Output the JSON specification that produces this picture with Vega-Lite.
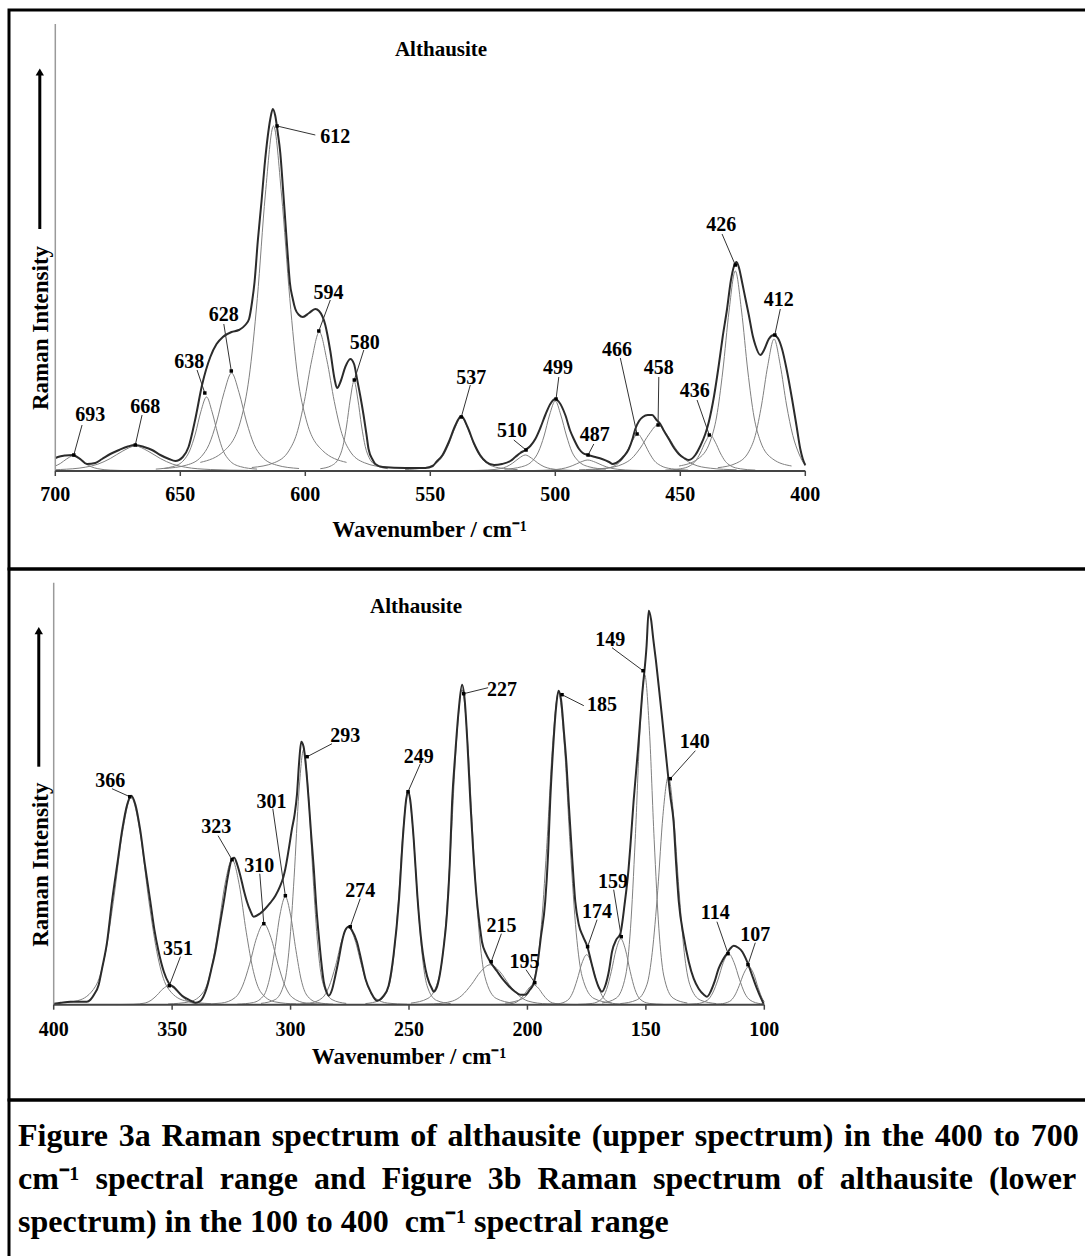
{
"$schema": "https://vega.github.io/schema/vega-lite/v6.json",
"padding": {"left": 7, "top": 8, "right": -5, "bottom": -5},
"spacing": 0,
"bounds": "flush",
"config": {"view": {"stroke": "#000", "strokeWidth": 3}, "text": {"font": "Liberation Serif", "fontWeight": "bold", "color": "#000"}},
"datasets": {
"aEnv": [{"wn":700,"i":13},{"wn":699,"i":14},{"wn":696,"i":15.5},{"wn":693,"i":16},{"wn":690,"i":12},{"wn":687.3,"i":7},{"wn":684,"i":8},{"wn":681.3,"i":12},{"wn":678,"i":17},{"wn":674.5,"i":21},{"wn":671,"i":24.5},{"wn":668,"i":26},{"wn":664.5,"i":24},{"wn":661.3,"i":21},{"wn":658,"i":16},{"wn":654.5,"i":12},{"wn":652,"i":10},{"wn":649,"i":14},{"wn":646.7,"i":24},{"wn":644,"i":52},{"wn":641.3,"i":86},{"wn":638,"i":114},{"wn":635.5,"i":127},{"wn":633,"i":134},{"wn":629.5,"i":139},{"wn":626.6,"i":141},{"wn":624,"i":146},{"wn":622.5,"i":152},{"wn":621.3,"i":169},{"wn":620.3,"i":189},{"wn":619,"i":230},{"wn":617.5,"i":270},{"wn":616.3,"i":305},{"wn":615,"i":335},{"wn":614,"i":352},{"wn":613,"i":362},{"wn":612,"i":355},{"wn":611,"i":338},{"wn":610,"i":318},{"wn":609,"i":285},{"wn":608,"i":250},{"wn":607,"i":215},{"wn":606.2,"i":189},{"wn":605,"i":172},{"wn":604,"i":162},{"wn":602.5,"i":156},{"wn":601,"i":154},{"wn":598.5,"i":158},{"wn":596,"i":162},{"wn":594.5,"i":160},{"wn":592,"i":146},{"wn":590,"i":120},{"wn":588.3,"i":92},{"wn":587.3,"i":83},{"wn":585.8,"i":90},{"wn":584,"i":104},{"wn":582,"i":112},{"wn":580.5,"i":107},{"wn":579.3,"i":92},{"wn":578,"i":75},{"wn":576.7,"i":56},{"wn":575.5,"i":36},{"wn":574.7,"i":22},{"wn":573,"i":11},{"wn":572,"i":7},{"wn":569,"i":4},{"wn":560,"i":3},{"wn":552,"i":3},{"wn":549,"i":5},{"wn":547.6,"i":9},{"wn":545.1,"i":16},{"wn":542.6,"i":29},{"wn":540.1,"i":45},{"wn":537.6,"i":55},{"wn":535.1,"i":44},{"wn":532.6,"i":28},{"wn":530.1,"i":16},{"wn":527.6,"i":9},{"wn":524.5,"i":6},{"wn":521.3,"i":7},{"wn":518,"i":10},{"wn":516,"i":14},{"wn":514,"i":18},{"wn":512,"i":21},{"wn":510,"i":25},{"wn":508,"i":32},{"wn":506,"i":43},{"wn":504,"i":56},{"wn":502,"i":67},{"wn":500,"i":72},{"wn":498.5,"i":69},{"wn":496,"i":56},{"wn":494,"i":40},{"wn":492.6,"i":32},{"wn":490.5,"i":22},{"wn":489,"i":18},{"wn":487,"i":16},{"wn":484,"i":14},{"wn":481.3,"i":12},{"wn":478.5,"i":9},{"wn":477,"i":7},{"wn":474.5,"i":10},{"wn":472.5,"i":15},{"wn":470.6,"i":22},{"wn":469,"i":33},{"wn":468,"i":42},{"wn":466.5,"i":50},{"wn":465,"i":54},{"wn":463,"i":56},{"wn":461.3,"i":56},{"wn":459.5,"i":51},{"wn":458,"i":47},{"wn":456.5,"i":40},{"wn":454.6,"i":32},{"wn":452.5,"i":23},{"wn":450.6,"i":17},{"wn":448.5,"i":13},{"wn":446.6,"i":11},{"wn":444,"i":16},{"wn":442,"i":25},{"wn":440,"i":37},{"wn":438.6,"i":49},{"wn":436.5,"i":75},{"wn":434.6,"i":106},{"wn":433,"i":135},{"wn":431.3,"i":162},{"wn":429.8,"i":190},{"wn":428.5,"i":205},{"wn":427.5,"i":209},{"wn":426.5,"i":203},{"wn":425.3,"i":189},{"wn":424,"i":173},{"wn":422.6,"i":156},{"wn":421,"i":135},{"wn":420,"i":126},{"wn":418,"i":116},{"wn":416.5,"i":121},{"wn":414.6,"i":132},{"wn":412.6,"i":136},{"wn":411,"i":133},{"wn":409.3,"i":122},{"wn":407.5,"i":102},{"wn":405.3,"i":72},{"wn":403.5,"i":45},{"wn":402,"i":22},{"wn":401,"i":12},{"wn":400,"i":6}],
"aComp": [
{"c":"693","wn":670.5,"i":0.4},{"c":"693","wn":678,"i":0.9},{"c":"693","wn":683,"i":2.3},{"c":"693","wn":685.5,"i":4.1},{"c":"693","wn":688,"i":7.5},{"c":"693","wn":690.5,"i":12},{"c":"693","wn":693,"i":15},{"c":"693","wn":695.5,"i":12},{"c":"693","wn":698,"i":7.5},{"c":"693","wn":700,"i":5},
{"c":"668","wn":623,"i":0.6},{"c":"668","wn":638,"i":1.5},{"c":"668","wn":648,"i":3.8},{"c":"668","wn":653,"i":6.8},{"c":"668","wn":658,"i":12.5},{"c":"668","wn":663,"i":20},{"c":"668","wn":668,"i":25},{"c":"668","wn":673,"i":20},{"c":"668","wn":678,"i":12.5},{"c":"668","wn":683,"i":6.8},{"c":"668","wn":688,"i":3.8},{"c":"668","wn":698,"i":1.5},{"c":"668","wn":700,"i":1.3},
{"c":"638","wn":619.3,"i":1.9},{"c":"638","wn":626,"i":4.4},{"c":"638","wn":630.5,"i":11.1},{"c":"638","wn":632.8,"i":20},{"c":"638","wn":635,"i":37},{"c":"638","wn":637.3,"i":59.2},{"c":"638","wn":639.5,"i":74},{"c":"638","wn":641.8,"i":59.2},{"c":"638","wn":644,"i":37},{"c":"638","wn":646.3,"i":20},{"c":"638","wn":648.5,"i":11.1},{"c":"638","wn":653,"i":4.4},{"c":"638","wn":659.8,"i":1.9},
{"c":"628","wn":602.5,"i":2.5},{"c":"628","wn":611.5,"i":5.9},{"c":"628","wn":617.5,"i":14.7},{"c":"628","wn":620.5,"i":26.5},{"c":"628","wn":623.5,"i":49},{"c":"628","wn":626.5,"i":78.4},{"c":"628","wn":629.5,"i":98},{"c":"628","wn":632.5,"i":78.4},{"c":"628","wn":635.5,"i":49},{"c":"628","wn":638.5,"i":26.5},{"c":"628","wn":641.5,"i":14.7},{"c":"628","wn":647.5,"i":5.9},{"c":"628","wn":656.5,"i":2.5},
{"c":"612","wn":583.5,"i":8.6},{"c":"612","wn":593.2,"i":20.7},{"c":"612","wn":599.7,"i":51.8},{"c":"612","wn":603,"i":93.2},{"c":"612","wn":606.2,"i":172.5},{"c":"612","wn":609.5,"i":276},{"c":"612","wn":612.7,"i":345},{"c":"612","wn":616,"i":276},{"c":"612","wn":619.2,"i":172.5},{"c":"612","wn":622.5,"i":93.2},{"c":"612","wn":625.7,"i":51.8},{"c":"612","wn":632.2,"i":20.7},{"c":"612","wn":642,"i":8.6},
{"c":"594","wn":567.4,"i":3.5},{"c":"594","wn":576.4,"i":8.3},{"c":"594","wn":582.4,"i":20.9},{"c":"594","wn":585.4,"i":37.5},{"c":"594","wn":588.4,"i":69.5},{"c":"594","wn":591.4,"i":111.2},{"c":"594","wn":594.4,"i":139},{"c":"594","wn":597.4,"i":111.2},{"c":"594","wn":600.4,"i":69.5},{"c":"594","wn":603.4,"i":37.5},{"c":"594","wn":606.4,"i":20.9},{"c":"594","wn":612.4,"i":8.3},{"c":"594","wn":621.4,"i":3.5},
{"c":"580","wn":567,"i":2.3},{"c":"580","wn":571.5,"i":5.4},{"c":"580","wn":574.5,"i":13.5},{"c":"580","wn":576,"i":24.3},{"c":"580","wn":577.5,"i":45},{"c":"580","wn":579,"i":72},{"c":"580","wn":580.5,"i":90},{"c":"580","wn":582,"i":72},{"c":"580","wn":583.5,"i":45},{"c":"580","wn":585,"i":24.3},{"c":"580","wn":586.5,"i":13.5},{"c":"580","wn":589.5,"i":5.4},{"c":"580","wn":594,"i":2.3},
{"c":"537","wn":515.1,"i":1.4},{"c":"537","wn":522.6,"i":3.2},{"c":"537","wn":527.6,"i":8.1},{"c":"537","wn":530.1,"i":14.6},{"c":"537","wn":532.6,"i":27},{"c":"537","wn":535.1,"i":43.2},{"c":"537","wn":537.6,"i":54},{"c":"537","wn":540.1,"i":43.2},{"c":"537","wn":542.6,"i":27},{"c":"537","wn":545.1,"i":14.6},{"c":"537","wn":547.6,"i":8.1},{"c":"537","wn":552.6,"i":3.2},{"c":"537","wn":560.1,"i":1.4},
{"c":"510","wn":489.5,"i":0.4},{"c":"510","wn":497,"i":1},{"c":"510","wn":502,"i":2.4},{"c":"510","wn":504.5,"i":4.3},{"c":"510","wn":507,"i":8},{"c":"510","wn":509.5,"i":12.8},{"c":"510","wn":512,"i":16},{"c":"510","wn":514.5,"i":12.8},{"c":"510","wn":517,"i":8},{"c":"510","wn":519.5,"i":4.3},{"c":"510","wn":522,"i":2.4},{"c":"510","wn":527,"i":1},{"c":"510","wn":534.5,"i":0.4},
{"c":"499","wn":479.8,"i":1.8},{"c":"499","wn":486.5,"i":4.2},{"c":"499","wn":491,"i":10.5},{"c":"499","wn":493.3,"i":18.9},{"c":"499","wn":495.5,"i":35},{"c":"499","wn":497.8,"i":56},{"c":"499","wn":500,"i":70},{"c":"499","wn":502.3,"i":56},{"c":"499","wn":504.5,"i":35},{"c":"499","wn":506.8,"i":18.9},{"c":"499","wn":509,"i":10.5},{"c":"499","wn":513.5,"i":4.2},{"c":"499","wn":520.3,"i":1.8},
{"c":"487","wn":460,"i":0.3},{"c":"487","wn":469,"i":0.7},{"c":"487","wn":475,"i":1.7},{"c":"487","wn":478,"i":3},{"c":"487","wn":481,"i":5.5},{"c":"487","wn":484,"i":8.8},{"c":"487","wn":487,"i":11},{"c":"487","wn":490,"i":8.8},{"c":"487","wn":493,"i":5.5},{"c":"487","wn":496,"i":3},{"c":"487","wn":499,"i":1.7},{"c":"487","wn":505,"i":0.7},{"c":"487","wn":514,"i":0.3},
{"c":"466","wn":446.8,"i":0.9},{"c":"466","wn":453.5,"i":2.2},{"c":"466","wn":458,"i":5.6},{"c":"466","wn":460.3,"i":10},{"c":"466","wn":462.5,"i":18.5},{"c":"466","wn":464.8,"i":29.6},{"c":"466","wn":467,"i":37},{"c":"466","wn":469.3,"i":29.6},{"c":"466","wn":471.5,"i":18.5},{"c":"466","wn":473.8,"i":10},{"c":"466","wn":476,"i":5.6},{"c":"466","wn":480.5,"i":2.2},{"c":"466","wn":487.3,"i":0.9},
{"c":"458","wn":427.5,"i":1.2},{"c":"458","wn":438,"i":2.8},{"c":"458","wn":445,"i":6.9},{"c":"458","wn":448.5,"i":12.4},{"c":"458","wn":452,"i":23},{"c":"458","wn":455.5,"i":36.8},{"c":"458","wn":459,"i":46},{"c":"458","wn":462.5,"i":36.8},{"c":"458","wn":466,"i":23},{"c":"458","wn":469.5,"i":12.4},{"c":"458","wn":473,"i":6.9},{"c":"458","wn":480,"i":2.8},{"c":"458","wn":490.5,"i":1.2},
{"c":"436","wn":420,"i":0.9},{"c":"436","wn":426,"i":2.2},{"c":"436","wn":430,"i":5.4},{"c":"436","wn":432,"i":9.7},{"c":"436","wn":434,"i":18},{"c":"436","wn":436,"i":28.8},{"c":"436","wn":438,"i":36},{"c":"436","wn":440,"i":28.8},{"c":"436","wn":442,"i":18},{"c":"436","wn":444,"i":9.7},{"c":"436","wn":446,"i":5.4},{"c":"436","wn":450,"i":2.2},{"c":"436","wn":456,"i":0.9},
{"c":"426","wn":405.5,"i":5},{"c":"426","wn":413,"i":12},{"c":"426","wn":418,"i":30},{"c":"426","wn":420.5,"i":54},{"c":"426","wn":423,"i":100},{"c":"426","wn":425.5,"i":160},{"c":"426","wn":428,"i":200},{"c":"426","wn":430.5,"i":160},{"c":"426","wn":433,"i":100},{"c":"426","wn":435.5,"i":54},{"c":"426","wn":438,"i":30},{"c":"426","wn":443,"i":12},{"c":"426","wn":450.5,"i":5},
{"c":"412","wn":400,"i":5},{"c":"412","wn":402.5,"i":17},{"c":"412","wn":405,"i":35.6},{"c":"412","wn":407.5,"i":66},{"c":"412","wn":410,"i":105.6},{"c":"412","wn":412.5,"i":132},{"c":"412","wn":415,"i":105.6},{"c":"412","wn":417.5,"i":66},{"c":"412","wn":420,"i":35.6},{"c":"412","wn":422.5,"i":19.8},{"c":"412","wn":427.5,"i":7.9},{"c":"412","wn":435,"i":3.3}
],
"aLab": [
{"t":"693","lx":686,"ly":56,"x1":689.3,"y1":46,"x2":692.6,"y2":16},
{"t":"668","lx":664,"ly":64,"x1":665.3,"y1":56,"x2":668,"y2":26},
{"t":"638","lx":646.4,"ly":109,"x1":643.3,"y1":101,"x2":640.2,"y2":78},
{"t":"628","lx":632.6,"ly":156,"x1":632.6,"y1":147,"x2":629.6,"y2":100},
{"t":"612","lx":588,"ly":334,"x1":596,"y1":336,"x2":611.3,"y2":345},
{"t":"594","lx":590.7,"ly":178,"x1":590,"y1":171,"x2":594.6,"y2":140},
{"t":"580","lx":576.2,"ly":128,"x1":576.6,"y1":121,"x2":580.4,"y2":91},
{"t":"537","lx":533.6,"ly":93,"x1":534,"y1":86,"x2":537.6,"y2":54},
{"t":"510","lx":517.3,"ly":40,"x1":516.6,"y1":31,"x2":511.7,"y2":21},
{"t":"499","lx":498.9,"ly":103,"x1":498.6,"y1":94,"x2":499.7,"y2":72},
{"t":"487","lx":484.2,"ly":36,"x1":484.6,"y1":27,"x2":486.9,"y2":16},
{"t":"466","lx":475.3,"ly":121,"x1":474,"y1":113,"x2":467.3,"y2":37},
{"t":"458","lx":458.6,"ly":103,"x1":458.6,"y1":94,"x2":458.9,"y2":46},
{"t":"436","lx":444.2,"ly":80,"x1":443.3,"y1":71,"x2":438.4,"y2":36},
{"t":"426","lx":433.6,"ly":246,"x1":433.3,"y1":237,"x2":428,"y2":206},
{"t":"412","lx":410.6,"ly":171,"x1":410,"y1":162,"x2":412.2,"y2":136}
],
"aTick": [{"wn":700},{"wn":650},{"wn":600},{"wn":550},{"wn":500},{"wn":450},{"wn":400}],
"bEnv": [{"wn":400,"i":1},{"wn":397,"i":2},{"wn":393,"i":3},{"wn":389,"i":3},{"wn":386,"i":3},{"wn":384.5,"i":5},{"wn":383,"i":10},{"wn":381,"i":20},{"wn":379.6,"i":36},{"wn":377.5,"i":62},{"wn":375.4,"i":103},{"wn":373,"i":143},{"wn":371,"i":176},{"wn":369,"i":200},{"wn":367.3,"i":209},{"wn":365.5,"i":200},{"wn":363.5,"i":175},{"wn":361.5,"i":140},{"wn":359.2,"i":103},{"wn":357.5,"i":75},{"wn":355.7,"i":53},{"wn":353.5,"i":33},{"wn":351.5,"i":22},{"wn":349,"i":17},{"wn":345.8,"i":9},{"wn":343,"i":5},{"wn":340.2,"i":2},{"wn":338.5,"i":3},{"wn":337.3,"i":6},{"wn":335,"i":20},{"wn":333.5,"i":35},{"wn":331.8,"i":53},{"wn":330,"i":78},{"wn":328.2,"i":103},{"wn":326.5,"i":128},{"wn":324.7,"i":146},{"wn":323.8,"i":147},{"wn":322.5,"i":140},{"wn":321.2,"i":129},{"wn":319.8,"i":115},{"wn":318.4,"i":103},{"wn":317,"i":94},{"wn":315.6,"i":88},{"wn":313,"i":91},{"wn":310.7,"i":96},{"wn":308.5,"i":102},{"wn":306.4,"i":109},{"wn":304.5,"i":118},{"wn":303,"i":128},{"wn":302.2,"i":136},{"wn":300.8,"i":155},{"wn":299.4,"i":176},{"wn":298.3,"i":190},{"wn":297.3,"i":210},{"wn":296.4,"i":242},{"wn":295.5,"i":263},{"wn":294.5,"i":258},{"wn":293.5,"i":238},{"wn":292.3,"i":203},{"wn":291.3,"i":170},{"wn":290.2,"i":136},{"wn":289.2,"i":100},{"wn":288.1,"i":69},{"wn":287,"i":42},{"wn":286,"i":23},{"wn":285,"i":14},{"wn":283.9,"i":9},{"wn":282.5,"i":15},{"wn":281.1,"i":29},{"wn":279.7,"i":45},{"wn":278.3,"i":63},{"wn":277,"i":74},{"wn":275.5,"i":78},{"wn":274,"i":74},{"wn":272,"i":63},{"wn":270.2,"i":45},{"wn":268.4,"i":26},{"wn":266,"i":12},{"wn":263.5,"i":4},{"wn":261,"i":8},{"wn":258.6,"i":19},{"wn":256.5,"i":50},{"wn":254.3,"i":103},{"wn":252.5,"i":170},{"wn":251.2,"i":205},{"wn":250.4,"i":214},{"wn":249.5,"i":205},{"wn":248,"i":165},{"wn":246.5,"i":110},{"wn":245,"i":68},{"wn":243,"i":35},{"wn":241.5,"i":22},{"wn":240.3,"i":16},{"wn":239.6,"i":13},{"wn":238.5,"i":16},{"wn":237,"i":30},{"wn":235.5,"i":55},{"wn":234,"i":90},{"wn":232.8,"i":140},{"wn":231.8,"i":203},{"wn":230.5,"i":250},{"wn":229,"i":295},{"wn":227.6,"i":320},{"wn":226.5,"i":305},{"wn":225.3,"i":260},{"wn":224.1,"i":203},{"wn":222.8,"i":150},{"wn":221.3,"i":103},{"wn":220.2,"i":80},{"wn":219.2,"i":63},{"wn":217.5,"i":51},{"wn":215.7,"i":43},{"wn":213,"i":34},{"wn":210.6,"i":26},{"wn":208,"i":19},{"wn":205.2,"i":13},{"wn":203,"i":10},{"wn":200.9,"i":10},{"wn":199,"i":15},{"wn":197.4,"i":21},{"wn":195.8,"i":40},{"wn":194.3,"i":68},{"wn":192.5,"i":103},{"wn":191.3,"i":150},{"wn":190.4,"i":203},{"wn":189.2,"i":255},{"wn":188,"i":295},{"wn":186.9,"i":314},{"wn":185.8,"i":305},{"wn":184.5,"i":270},{"wn":183.5,"i":240},{"wn":182.6,"i":203},{"wn":181.2,"i":150},{"wn":179.8,"i":103},{"wn":178.3,"i":80},{"wn":176.5,"i":68},{"wn":174.7,"i":58},{"wn":173,"i":42},{"wn":171.2,"i":26},{"wn":169.8,"i":17},{"wn":168.6,"i":13},{"wn":167,"i":20},{"wn":165.5,"i":35},{"wn":164.3,"i":53},{"wn":162.5,"i":65},{"wn":160.8,"i":71},{"wn":159,"i":100},{"wn":157.3,"i":136},{"wn":156.5,"i":160},{"wn":155.2,"i":203},{"wn":153.3,"i":256},{"wn":151.6,"i":309},{"wn":149.7,"i":359},{"wn":148.8,"i":394},{"wn":147.8,"i":385},{"wn":146.9,"i":366},{"wn":145.8,"i":345},{"wn":144.6,"i":319},{"wn":143.2,"i":288},{"wn":141.8,"i":256},{"wn":139.7,"i":209},{"wn":138.3,"i":183},{"wn":137.2,"i":140},{"wn":136.1,"i":103},{"wn":134,"i":68},{"wn":131.9,"i":43},{"wn":129.8,"i":26},{"wn":127.7,"i":16},{"wn":125.5,"i":10},{"wn":124.2,"i":8},{"wn":122.5,"i":14},{"wn":121,"i":23},{"wn":119.3,"i":36},{"wn":117.5,"i":45},{"wn":115.8,"i":51},{"wn":114.4,"i":56},{"wn":112.9,"i":59},{"wn":111,"i":57},{"wn":109.3,"i":53},{"wn":108,"i":47},{"wn":106.6,"i":39},{"wn":104.8,"i":27},{"wn":103.1,"i":16},{"wn":101.5,"i":7},{"wn":100.3,"i":1}],
"bComp": [
{"c":"366","wn":333.6,"i":1},{"c":"366","wn":344.8,"i":4.1},{"c":"366","wn":352.3,"i":18.6},{"c":"366","wn":356,"i":47.6},{"c":"366","wn":359.8,"i":103.5},{"c":"366","wn":363.5,"i":171.8},{"c":"366","wn":367.3,"i":207},{"c":"366","wn":371,"i":171.8},{"c":"366","wn":374.8,"i":103.5},{"c":"366","wn":378.5,"i":47.6},{"c":"366","wn":382.3,"i":18.6},{"c":"366","wn":389.8,"i":4.1},{"c":"366","wn":400,"i":1},
{"c":"351","wn":328.9,"i":0.1},{"c":"351","wn":336.4,"i":0.4},{"c":"351","wn":341.4,"i":1.7},{"c":"351","wn":343.9,"i":4.4},{"c":"351","wn":346.4,"i":9.5},{"c":"351","wn":348.9,"i":15.8},{"c":"351","wn":351.4,"i":19},{"c":"351","wn":353.9,"i":15.8},{"c":"351","wn":356.4,"i":9.5},{"c":"351","wn":358.9,"i":4.4},{"c":"351","wn":361.4,"i":1.7},{"c":"351","wn":366.4,"i":0.4},{"c":"351","wn":373.9,"i":0.1},
{"c":"323","wn":297.7,"i":0.7},{"c":"323","wn":306.7,"i":2.9},{"c":"323","wn":312.7,"i":13},{"c":"323","wn":315.7,"i":33.4},{"c":"323","wn":318.7,"i":72.5},{"c":"323","wn":321.7,"i":120.4},{"c":"323","wn":324.7,"i":145},{"c":"323","wn":327.7,"i":120.4},{"c":"323","wn":330.7,"i":72.5},{"c":"323","wn":333.7,"i":33.4},{"c":"323","wn":336.7,"i":13},{"c":"323","wn":342.7,"i":2.9},{"c":"323","wn":351.7,"i":0.7},
{"c":"310","wn":284.3,"i":0.4},{"c":"310","wn":293.3,"i":1.6},{"c":"310","wn":299.3,"i":7.3},{"c":"310","wn":302.3,"i":18.6},{"c":"310","wn":305.3,"i":40.5},{"c":"310","wn":308.3,"i":67.2},{"c":"310","wn":311.3,"i":81},{"c":"310","wn":314.3,"i":67.2},{"c":"310","wn":317.3,"i":40.5},{"c":"310","wn":320.3,"i":18.6},{"c":"310","wn":323.3,"i":7.3},{"c":"310","wn":329.3,"i":1.6},{"c":"310","wn":338.3,"i":0.4},
{"c":"301","wn":282,"i":0.5},{"c":"301","wn":288.7,"i":2.2},{"c":"301","wn":293.2,"i":9.7},{"c":"301","wn":295.5,"i":24.8},{"c":"301","wn":297.7,"i":54},{"c":"301","wn":300,"i":89.6},{"c":"301","wn":302.2,"i":108},{"c":"301","wn":304.5,"i":89.6},{"c":"301","wn":306.7,"i":54},{"c":"301","wn":309,"i":24.8},{"c":"301","wn":311.2,"i":9.7},{"c":"301","wn":315.7,"i":2.2},{"c":"301","wn":322.5,"i":0.5},
{"c":"293","wn":276.5,"i":1.3},{"c":"293","wn":282.5,"i":5.1},{"c":"293","wn":286.5,"i":23},{"c":"293","wn":288.5,"i":58.7},{"c":"293","wn":290.5,"i":127.5},{"c":"293","wn":292.5,"i":211.7},{"c":"293","wn":294.5,"i":255},{"c":"293","wn":296.5,"i":211.7},{"c":"293","wn":298.5,"i":127.5},{"c":"293","wn":300.5,"i":58.7},{"c":"293","wn":302.5,"i":23},{"c":"293","wn":306.5,"i":5.1},{"c":"293","wn":312.5,"i":1.3},
{"c":"274","wn":250.8,"i":0.4},{"c":"274","wn":259,"i":1.6},{"c":"274","wn":264.5,"i":7},{"c":"274","wn":267.3,"i":17.9},{"c":"274","wn":270,"i":39},{"c":"274","wn":272.8,"i":64.7},{"c":"274","wn":275.5,"i":78},{"c":"274","wn":278.3,"i":64.7},{"c":"274","wn":281,"i":39},{"c":"274","wn":283.8,"i":17.9},{"c":"274","wn":286.5,"i":7},{"c":"274","wn":292,"i":1.6},{"c":"274","wn":300.3,"i":0.4},
{"c":"249","wn":232.4,"i":1.1},{"c":"249","wn":238.4,"i":4.3},{"c":"249","wn":242.4,"i":19.2},{"c":"249","wn":244.4,"i":49},{"c":"249","wn":246.4,"i":106.5},{"c":"249","wn":248.4,"i":176.8},{"c":"249","wn":250.4,"i":213},{"c":"249","wn":252.4,"i":176.8},{"c":"249","wn":254.4,"i":106.5},{"c":"249","wn":256.4,"i":49},{"c":"249","wn":258.4,"i":19.2},{"c":"249","wn":262.4,"i":4.3},{"c":"249","wn":268.4,"i":1.1},
{"c":"227","wn":206,"i":1.6},{"c":"227","wn":213.2,"i":6.3},{"c":"227","wn":218,"i":28.4},{"c":"227","wn":220.4,"i":72.5},{"c":"227","wn":222.8,"i":157.5},{"c":"227","wn":225.2,"i":261.5},{"c":"227","wn":227.6,"i":315},{"c":"227","wn":230,"i":261.5},{"c":"227","wn":232.4,"i":157.5},{"c":"227","wn":234.8,"i":72.5},{"c":"227","wn":237.2,"i":28.4},{"c":"227","wn":242,"i":6.3},{"c":"227","wn":249.2,"i":1.6},
{"c":"215","wn":179.7,"i":0.2},{"c":"215","wn":191.7,"i":0.8},{"c":"215","wn":199.7,"i":3.6},{"c":"215","wn":203.7,"i":9.2},{"c":"215","wn":207.7,"i":20},{"c":"215","wn":211.7,"i":33.2},{"c":"215","wn":215.7,"i":40},{"c":"215","wn":219.7,"i":33.2},{"c":"215","wn":223.7,"i":20},{"c":"215","wn":227.7,"i":9.2},{"c":"215","wn":231.7,"i":3.6},{"c":"215","wn":239.7,"i":0.8},{"c":"215","wn":251.7,"i":0.2},
{"c":"195","wn":179.4,"i":0.1},{"c":"195","wn":185.4,"i":0.4},{"c":"195","wn":189.4,"i":1.8},{"c":"195","wn":191.4,"i":4.6},{"c":"195","wn":193.4,"i":10},{"c":"195","wn":195.4,"i":16.6},{"c":"195","wn":197.4,"i":20},{"c":"195","wn":199.4,"i":16.6},{"c":"195","wn":201.4,"i":10},{"c":"195","wn":203.4,"i":4.6},{"c":"195","wn":205.4,"i":1.8},{"c":"195","wn":209.4,"i":0.4},{"c":"195","wn":215.4,"i":0.1},
{"c":"185","wn":164.4,"i":1.6},{"c":"185","wn":171.9,"i":6.2},{"c":"185","wn":176.9,"i":28.1},{"c":"185","wn":179.4,"i":71.8},{"c":"185","wn":181.9,"i":156},{"c":"185","wn":184.4,"i":259},{"c":"185","wn":186.9,"i":312},{"c":"185","wn":189.4,"i":259},{"c":"185","wn":191.9,"i":156},{"c":"185","wn":194.4,"i":71.8},{"c":"185","wn":196.9,"i":28.1},{"c":"185","wn":201.9,"i":6.2},{"c":"185","wn":209.4,"i":1.6},
{"c":"174","wn":157,"i":0.3},{"c":"174","wn":163,"i":1},{"c":"174","wn":167,"i":4.5},{"c":"174","wn":169,"i":11.5},{"c":"174","wn":171,"i":25},{"c":"174","wn":173,"i":41.5},{"c":"174","wn":175,"i":50},{"c":"174","wn":177,"i":41.5},{"c":"174","wn":179,"i":25},{"c":"174","wn":181,"i":11.5},{"c":"174","wn":183,"i":4.5},{"c":"174","wn":187,"i":1},{"c":"174","wn":193,"i":0.3},
{"c":"159","wn":142.6,"i":0.3},{"c":"159","wn":148.6,"i":1.3},{"c":"159","wn":152.6,"i":5.9},{"c":"159","wn":154.6,"i":15.2},{"c":"159","wn":156.6,"i":33},{"c":"159","wn":158.6,"i":54.8},{"c":"159","wn":160.6,"i":66},{"c":"159","wn":162.6,"i":54.8},{"c":"159","wn":164.6,"i":33},{"c":"159","wn":166.6,"i":15.2},{"c":"159","wn":168.6,"i":5.9},{"c":"159","wn":172.6,"i":1.3},{"c":"159","wn":178.6,"i":0.3},
{"c":"149","wn":132.5,"i":1.7},{"c":"149","wn":138.5,"i":6.6},{"c":"149","wn":142.5,"i":29.7},{"c":"149","wn":144.5,"i":75.9},{"c":"149","wn":146.5,"i":165},{"c":"149","wn":148.5,"i":273.9},{"c":"149","wn":150.5,"i":330},{"c":"149","wn":152.5,"i":273.9},{"c":"149","wn":154.5,"i":165},{"c":"149","wn":156.5,"i":75.9},{"c":"149","wn":158.5,"i":29.7},{"c":"149","wn":162.5,"i":6.6},{"c":"149","wn":168.5,"i":1.7},
{"c":"140","wn":120.3,"i":1.1},{"c":"140","wn":127,"i":4.6},{"c":"140","wn":131.5,"i":20.5},{"c":"140","wn":133.8,"i":52.4},{"c":"140","wn":136,"i":114},{"c":"140","wn":138.3,"i":189.2},{"c":"140","wn":140.5,"i":228},{"c":"140","wn":142.8,"i":189.2},{"c":"140","wn":145,"i":114},{"c":"140","wn":147.3,"i":52.4},{"c":"140","wn":149.5,"i":20.5},{"c":"140","wn":154,"i":4.6},{"c":"140","wn":160.8,"i":1.1},
{"c":"114","wn":100,"i":0.8},{"c":"114","wn":101.5,"i":1},{"c":"114","wn":106,"i":4.6},{"c":"114","wn":108.3,"i":11.7},{"c":"114","wn":110.5,"i":25.5},{"c":"114","wn":112.8,"i":42.3},{"c":"114","wn":115,"i":51},{"c":"114","wn":117.3,"i":42.3},{"c":"114","wn":119.5,"i":25.5},{"c":"114","wn":121.8,"i":11.7},{"c":"114","wn":124,"i":4.6},{"c":"114","wn":128.5,"i":1},{"c":"114","wn":135.3,"i":0.3},
{"c":"107","wn":100,"i":3},{"c":"107","wn":100.6,"i":5},{"c":"107","wn":102.6,"i":17},{"c":"107","wn":104.6,"i":31.5},{"c":"107","wn":106.6,"i":38},{"c":"107","wn":108.6,"i":31.5},{"c":"107","wn":110.6,"i":19},{"c":"107","wn":112.6,"i":8.7},{"c":"107","wn":114.6,"i":3.4},{"c":"107","wn":118.6,"i":0.8},{"c":"107","wn":124.6,"i":0.2}
],
"bLab": [
{"t":"366","lx":376.1,"ly":224,"x1":375.4,"y1":216,"x2":367.9,"y2":208},
{"t":"351","lx":347.5,"ly":56,"x1":346.5,"y1":48,"x2":351.2,"y2":19},
{"t":"323","lx":331.4,"ly":178,"x1":330.6,"y1":169,"x2":324.7,"y2":145},
{"t":"310","lx":313.2,"ly":139,"x1":313,"y1":131,"x2":311.3,"y2":81},
{"t":"301","lx":308.1,"ly":203,"x1":307.5,"y1":196,"x2":302.2,"y2":109},
{"t":"293","lx":276.9,"ly":269,"x1":282.5,"y1":261,"x2":293,"y2":248},
{"t":"274","lx":270.6,"ly":114,"x1":270.6,"y1":106,"x2":274.8,"y2":78},
{"t":"249","lx":245.9,"ly":248,"x1":245.2,"y1":241,"x2":250.4,"y2":213},
{"t":"227","lx":210.7,"ly":315,"x1":216.6,"y1":317,"x2":226.9,"y2":311},
{"t":"215","lx":211,"ly":79,"x1":211,"y1":71,"x2":215.3,"y2":43},
{"t":"195","lx":201.2,"ly":43,"x1":200.6,"y1":35,"x2":196.9,"y2":22},
{"t":"185","lx":168.5,"ly":300,"x1":176.2,"y1":299,"x2":185.4,"y2":310},
{"t":"174","lx":170.6,"ly":93,"x1":170.6,"y1":85,"x2":174.6,"y2":58},
{"t":"159","lx":163.9,"ly":123,"x1":163.6,"y1":115,"x2":160.4,"y2":68},
{"t":"149","lx":165,"ly":365,"x1":164.3,"y1":357,"x2":151.2,"y2":334},
{"t":"140","lx":129.4,"ly":263,"x1":129.1,"y1":254,"x2":139.7,"y2":226},
{"t":"114","lx":120.7,"ly":92,"x1":120,"y1":83,"x2":115.3,"y2":51},
{"t":"107","lx":103.8,"ly":70,"x1":103.8,"y1":62,"x2":106.9,"y2":40}
],
"bTick": [{"wn":400},{"wn":350},{"wn":300},{"wn":250},{"wn":200},{"wn":150},{"wn":100}],
"cap": [
{"line":1,"t":"Figure\u200a 3a\u200a Raman\u200a spectrum\u200a of\u200a althausite\u200a (upper\u200a spectrum)\u200a in\u200a the\u200a 400\u200a to\u200a 700"},
{"line":2,"t":"cm⁻¹ \u00a0spectral \u00a0range \u00a0and \u00a0Figure \u00a03b \u00a0Raman \u00a0spectrum \u00a0of \u00a0althausite \u00a0(lower"},
{"line":3,"t":"spectrum) in the 100 to 400 \u00a0cm⁻¹ spectral range"}
]
},
"vconcat": [
{"width": 1082, "height": 559,
"layer": [
{"data":{"name":"aComp"},"mark":{"type":"line","interpolate":"monotone","color":"#808080","strokeWidth":1},"encoding":{"x":{"field":"wn","type":"quantitative","scale":{"domain":[718.52,285.72],"nice":false,"zero":false},"axis":null},"y":{"field":"i","type":"quantitative","scale":{"domain":[-98,461],"nice":false,"zero":false},"axis":null},"detail":{"field":"c"}}},
{"data":{"name":"aEnv"},"mark":{"type":"line","interpolate":"monotone","color":"#2b2b2b","strokeWidth":2},"encoding":{"x":{"field":"wn","type":"quantitative","scale":{"domain":[718.52,285.72],"nice":false,"zero":false},"axis":null},"y":{"field":"i","type":"quantitative","scale":{"domain":[-98,461],"nice":false,"zero":false},"axis":null}}},
{"data":{"values":[{}]},"mark":{"type":"rule","color":"#9a9a9a","strokeWidth":1.5},"encoding":{"x":{"datum":700,"type":"quantitative","scale":{"domain":[718.52,285.72],"nice":false,"zero":false},"axis":null},"y":{"datum":0,"type":"quantitative","scale":{"domain":[-98,461],"nice":false,"zero":false},"axis":null},"y2":{"datum":447}}},
{"data":{"values":[{}]},"mark":{"type":"rule","color":"#444","strokeWidth":2},"encoding":{"x":{"datum":700,"type":"quantitative","scale":{"domain":[718.52,285.72],"nice":false,"zero":false},"axis":null},"x2":{"datum":400},"y":{"datum":0,"type":"quantitative","scale":{"domain":[-98,461],"nice":false,"zero":false},"axis":null}}},
{"data":{"name":"aTick"},"mark":{"type":"rule","color":"#444","strokeWidth":1.5},"encoding":{"x":{"field":"wn","type":"quantitative","scale":{"domain":[718.52,285.72],"nice":false,"zero":false},"axis":null},"y":{"datum":0,"type":"quantitative","scale":{"domain":[-98,461],"nice":false,"zero":false},"axis":null},"y2":{"datum":-5}}},
{"data":{"name":"aTick"},"mark":{"type":"text","fontSize":20,"baseline":"middle","align":"center"},"encoding":{"x":{"field":"wn","type":"quantitative","scale":{"domain":[718.52,285.72],"nice":false,"zero":false},"axis":null},"y":{"datum":-24,"type":"quantitative","scale":{"domain":[-98,461],"nice":false,"zero":false},"axis":null},"text":{"field":"wn","type":"quantitative","format":"d"}}},
{"data":{"name":"aLab"},"mark":{"type":"rule","color":"#333","strokeWidth":1},"encoding":{"x":{"field":"x1","type":"quantitative","scale":{"domain":[718.52,285.72],"nice":false,"zero":false},"axis":null},"y":{"field":"y1","type":"quantitative","scale":{"domain":[-98,461],"nice":false,"zero":false},"axis":null},"x2":{"field":"x2"},"y2":{"field":"y2"}}},
{"data":{"name":"aLab"},"mark":{"type":"point","filled":true,"shape":"square","size":12,"color":"#000","opacity":1},"encoding":{"x":{"field":"x2","type":"quantitative","scale":{"domain":[718.52,285.72],"nice":false,"zero":false},"axis":null},"y":{"field":"y2","type":"quantitative","scale":{"domain":[-98,461],"nice":false,"zero":false},"axis":null}}},
{"data":{"name":"aLab"},"mark":{"type":"text","fontSize":20,"baseline":"middle","align":"center"},"encoding":{"x":{"field":"lx","type":"quantitative","scale":{"domain":[718.52,285.72],"nice":false,"zero":false},"axis":null},"y":{"field":"ly","type":"quantitative","scale":{"domain":[-98,461],"nice":false,"zero":false},"axis":null},"text":{"field":"t"}}},
{"data":{"values":[{}]},"mark":{"type":"text","text":"Althausite","fontSize":21,"baseline":"middle","align":"center"},"encoding":{"x":{"datum":545.7,"type":"quantitative","scale":{"domain":[718.52,285.72],"nice":false,"zero":false},"axis":null},"y":{"datum":420.7,"type":"quantitative","scale":{"domain":[-98,461],"nice":false,"zero":false},"axis":null}}},
{"data":{"values":[{}]},"mark":{"type":"text","text":"Wavenumber / cm⁻¹","fontSize":23,"baseline":"middle","align":"center"},"encoding":{"x":{"datum":550.3,"type":"quantitative","scale":{"domain":[718.52,285.72],"nice":false,"zero":false},"axis":null},"y":{"datum":-59,"type":"quantitative","scale":{"domain":[-98,461],"nice":false,"zero":false},"axis":null}}},
{"data":{"values":[{}]},"mark":{"type":"text","text":"Raman Intensity","fontSize":23,"baseline":"middle","align":"center","angle":270},"encoding":{"x":{"datum":705.7,"type":"quantitative","scale":{"domain":[718.52,285.72],"nice":false,"zero":false},"axis":null},"y":{"datum":143,"type":"quantitative","scale":{"domain":[-98,461],"nice":false,"zero":false},"axis":null}}},
{"data":{"values":[{}]},"mark":{"type":"rule","color":"#000","strokeWidth":3},"encoding":{"x":{"datum":706.2,"type":"quantitative","scale":{"domain":[718.52,285.72],"nice":false,"zero":false},"axis":null},"y":{"datum":242,"type":"quantitative","scale":{"domain":[-98,461],"nice":false,"zero":false},"axis":null},"y2":{"datum":397}}},
{"data":{"values":[{}]},"mark":{"type":"point","filled":true,"shape":"triangle-up","size":70,"color":"#000","opacity":1},"encoding":{"x":{"datum":706.2,"type":"quantitative","scale":{"domain":[718.52,285.72],"nice":false,"zero":false},"axis":null},"y":{"datum":399,"type":"quantitative","scale":{"domain":[-98,461],"nice":false,"zero":false},"axis":null}}}
]},
{"width": 1082, "height": 531,
"layer": [
{"data":{"name":"bComp"},"mark":{"type":"line","interpolate":"monotone","color":"#808080","strokeWidth":1},"encoding":{"x":{"field":"wn","type":"quantitative","scale":{"domain":[418.87,-37.92],"nice":false,"zero":false},"axis":null},"y":{"field":"i","type":"quantitative","scale":{"domain":[-95.3,435.7],"nice":false,"zero":false},"axis":null},"detail":{"field":"c"}}},
{"data":{"name":"bEnv"},"mark":{"type":"line","interpolate":"monotone","color":"#2b2b2b","strokeWidth":2},"encoding":{"x":{"field":"wn","type":"quantitative","scale":{"domain":[418.87,-37.92],"nice":false,"zero":false},"axis":null},"y":{"field":"i","type":"quantitative","scale":{"domain":[-95.3,435.7],"nice":false,"zero":false},"axis":null}}},
{"data":{"values":[{}]},"mark":{"type":"rule","color":"#9a9a9a","strokeWidth":1.5},"encoding":{"x":{"datum":400,"type":"quantitative","scale":{"domain":[418.87,-37.92],"nice":false,"zero":false},"axis":null},"y":{"datum":0,"type":"quantitative","scale":{"domain":[-95.3,435.7],"nice":false,"zero":false},"axis":null},"y2":{"datum":422}}},
{"data":{"values":[{}]},"mark":{"type":"rule","color":"#444","strokeWidth":2},"encoding":{"x":{"datum":400,"type":"quantitative","scale":{"domain":[418.87,-37.92],"nice":false,"zero":false},"axis":null},"x2":{"datum":100},"y":{"datum":0,"type":"quantitative","scale":{"domain":[-95.3,435.7],"nice":false,"zero":false},"axis":null}}},
{"data":{"name":"bTick"},"mark":{"type":"rule","color":"#444","strokeWidth":1.5},"encoding":{"x":{"field":"wn","type":"quantitative","scale":{"domain":[418.87,-37.92],"nice":false,"zero":false},"axis":null},"y":{"datum":0,"type":"quantitative","scale":{"domain":[-95.3,435.7],"nice":false,"zero":false},"axis":null},"y2":{"datum":-5}}},
{"data":{"name":"bTick"},"mark":{"type":"text","fontSize":20,"baseline":"middle","align":"center"},"encoding":{"x":{"field":"wn","type":"quantitative","scale":{"domain":[418.87,-37.92],"nice":false,"zero":false},"axis":null},"y":{"datum":-25,"type":"quantitative","scale":{"domain":[-95.3,435.7],"nice":false,"zero":false},"axis":null},"text":{"field":"wn","type":"quantitative","format":"d"}}},
{"data":{"name":"bLab"},"mark":{"type":"rule","color":"#333","strokeWidth":1},"encoding":{"x":{"field":"x1","type":"quantitative","scale":{"domain":[418.87,-37.92],"nice":false,"zero":false},"axis":null},"y":{"field":"y1","type":"quantitative","scale":{"domain":[-95.3,435.7],"nice":false,"zero":false},"axis":null},"x2":{"field":"x2"},"y2":{"field":"y2"}}},
{"data":{"name":"bLab"},"mark":{"type":"point","filled":true,"shape":"square","size":12,"color":"#000","opacity":1},"encoding":{"x":{"field":"x2","type":"quantitative","scale":{"domain":[418.87,-37.92],"nice":false,"zero":false},"axis":null},"y":{"field":"y2","type":"quantitative","scale":{"domain":[-95.3,435.7],"nice":false,"zero":false},"axis":null}}},
{"data":{"name":"bLab"},"mark":{"type":"text","fontSize":20,"baseline":"middle","align":"center"},"encoding":{"x":{"field":"lx","type":"quantitative","scale":{"domain":[418.87,-37.92],"nice":false,"zero":false},"axis":null},"y":{"field":"ly","type":"quantitative","scale":{"domain":[-95.3,435.7],"nice":false,"zero":false},"axis":null},"text":{"field":"t"}}},
{"data":{"values":[{}]},"mark":{"type":"text","text":"Althausite","fontSize":21,"baseline":"middle","align":"center"},"encoding":{"x":{"datum":247,"type":"quantitative","scale":{"domain":[418.87,-37.92],"nice":false,"zero":false},"axis":null},"y":{"datum":397.7,"type":"quantitative","scale":{"domain":[-95.3,435.7],"nice":false,"zero":false},"axis":null}}},
{"data":{"values":[{}]},"mark":{"type":"text","text":"Wavenumber / cm⁻¹","fontSize":23,"baseline":"middle","align":"center"},"encoding":{"x":{"datum":250,"type":"quantitative","scale":{"domain":[418.87,-37.92],"nice":false,"zero":false},"axis":null},"y":{"datum":-52,"type":"quantitative","scale":{"domain":[-95.3,435.7],"nice":false,"zero":false},"axis":null}}},
{"data":{"values":[{}]},"mark":{"type":"text","text":"Raman Intensity","fontSize":23,"baseline":"middle","align":"center","angle":270},"encoding":{"x":{"datum":405.4,"type":"quantitative","scale":{"domain":[418.87,-37.92],"nice":false,"zero":false},"axis":null},"y":{"datum":140,"type":"quantitative","scale":{"domain":[-95.3,435.7],"nice":false,"zero":false},"axis":null}}},
{"data":{"values":[{}]},"mark":{"type":"rule","color":"#000","strokeWidth":3},"encoding":{"x":{"datum":406.3,"type":"quantitative","scale":{"domain":[418.87,-37.92],"nice":false,"zero":false},"axis":null},"y":{"datum":238,"type":"quantitative","scale":{"domain":[-95.3,435.7],"nice":false,"zero":false},"axis":null},"y2":{"datum":372}}},
{"data":{"values":[{}]},"mark":{"type":"point","filled":true,"shape":"triangle-up","size":70,"color":"#000","opacity":1},"encoding":{"x":{"datum":406.3,"type":"quantitative","scale":{"domain":[418.87,-37.92],"nice":false,"zero":false},"axis":null},"y":{"datum":374,"type":"quantitative","scale":{"domain":[-95.3,435.7],"nice":false,"zero":false},"axis":null}}}
]},
{"width": 1082, "height": 162,
"data": {"name": "cap"},
"mark": {"type": "text", "align": "left", "baseline": "alphabetic", "fontSize": 32},
"encoding": {"x": {"value": 9}, "y": {"field": "line", "type": "quantitative", "scale": {"domain": [3.698, -0.0698], "nice": false, "zero": false}, "axis": null}, "text": {"field": "t"}}
}
]
}
